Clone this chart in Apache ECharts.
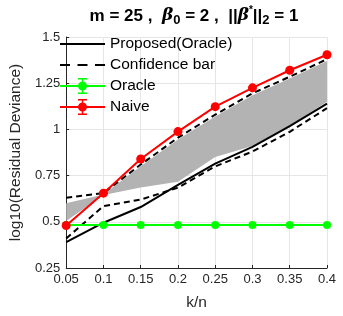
<!DOCTYPE html>
<html>
<head>
<meta charset="utf-8">
<script src="https://cdn.jsdelivr.net/npm/echarts@6/dist/echarts.min.js"></script>
<style>html,body{margin:0;padding:0;background:#fff}#c{width:343px;height:316px}</style>
</head>
<body>
<div id="c"></div>
<script>
const kn = [0.05, 0.1, 0.15, 0.2, 0.25, 0.3, 0.35, 0.4];
const proposed = [0.39, 0.495, 0.58, 0.70, 0.815, 0.905, 1.018, 1.14];
const confUpper = [0.63, 0.655, 0.81, 0.955, 1.08, 1.195, 1.285, 1.38];
const confLower = [0.41, 0.585, 0.62, 0.685, 0.80, 0.88, 0.987, 1.115];
const oracle = [0.483, 0.483, 0.483, 0.483, 0.483, 0.483, 0.483, 0.483];
const naive = [0.48, 0.655, 0.84, 0.988, 1.123, 1.225, 1.32, 1.404];
const bandLower = [0.505, 0.645, 0.685, 0.717, 0.85, 0.91, 1.02, 1.15];
const bandUpper = [0.60, 0.648, 0.80, 0.945, 1.07, 1.185, 1.275, 1.37];
const yTicks = [0.25, 0.5, 0.75, 1, 1.25, 1.5];

const pair = arr => arr.map((v, i) => [kn[i], v]);
const FONT = 'Liberation Sans, Arial, sans-serif';
const ebIcon = 'path://M0 7H45V9H0Z M21.75 0.75H23.25V15.25H21.75Z M18 0H27V1.5H18Z M18 14.5H27V16H18Z M18 8A4.5 4.5 0 1 1 27 8A4.5 4.5 0 1 1 18 8Z';
const solidIcon = 'path://M0 0H45V0.1H0Z M0 7H45V9H0Z M0 15.9H45V16H0Z';
const dashIcon = 'path://M0 0H45V0.1H0Z M0 7H10V9H0Z M17.5 7H27.5V9H17.5Z M35 7H45V9H35Z M0 15.9H45V16H0Z';

const chart = echarts.init(document.getElementById('c'), null, {renderer: 'canvas'});
chart.setOption({
  animation: false,
  backgroundColor: '#fff',
  title: {
    left: 194, top: 5, textAlign: 'center', padding: 0,
    text: '{t|m = 25 ,  }{g|β}{sb|0}{t| = 2 ,  ||}{g|β}{sp|*}{t|||}{sb|2}{t| = 1}',
    textStyle: {
      rich: {
        t: {fontSize: 17, fontWeight: 'bold', fontFamily: FONT, color: '#000', lineHeight: 22, verticalAlign: 'middle'},
        g: {fontSize: 17, fontStyle: 'italic', fontFamily: 'DejaVu Serif, serif', color: '#000', lineHeight: 22, verticalAlign: 'middle'},
        sb: {fontSize: 13, fontWeight: 'bold', fontFamily: FONT, color: '#000', lineHeight: 12, verticalAlign: 'bottom'},
        sp: {fontSize: 10, fontFamily: FONT, color: '#000', lineHeight: 10, verticalAlign: 'top'}
      }
    }
  },
  grid: {left: 59, right: 16, top: 37, bottom: 48},
  legend: {
    orient: 'vertical', left: 60, top: 36, padding: 0,
    itemWidth: 45, itemHeight: 16, itemGap: 5,
    textStyle: {fontSize: 15.5, fontFamily: FONT, color: '#000'},
    data: [
      {name: 'Proposed(Oracle)', icon: solidIcon},
      {name: 'Confidence bar', icon: dashIcon},
      {name: 'Oracle', icon: ebIcon},
      {name: 'Naive', icon: ebIcon}
    ]
  },
  xAxis: {
    type: 'value', min: 0.05, max: 0.4, interval: 0.05,
    name: 'k/n', nameLocation: 'middle', nameGap: 27,
    nameTextStyle: {fontSize: 15.5, fontFamily: FONT, color: '#262626'},
    axisLine: {lineStyle: {color: '#262626', width: 1}},
    axisTick: {inside: true, length: 3, lineStyle: {color: '#262626'}},
    axisLabel: {fontSize: 13, fontFamily: FONT, color: '#262626', margin: 5,
      formatter: v => String(Math.round(v * 100) / 100)},
    splitLine: {show: true, lineStyle: {color: '#e6e6e6', width: 1}}
  },
  yAxis: {
    type: 'value', min: yTicks[0], max: yTicks[yTicks.length - 1], interval: 0.25,
    name: 'log10(Residual Deviance)', nameLocation: 'middle', nameGap: 36,
    nameTextStyle: {fontSize: 15.5, fontFamily: FONT, color: '#262626'},
    axisLine: {show: true, lineStyle: {color: '#262626', width: 1}},
    axisTick: {show: true, inside: true, length: 3, lineStyle: {color: '#262626'}},
    axisLabel: {fontSize: 13, fontFamily: FONT, color: '#262626', margin: 6,
      formatter: v => String(Math.round(v * 100) / 100)},
    splitLine: {show: true, lineStyle: {color: '#e6e6e6', width: 1}}
  },
  series: [
    {type: 'custom', name: 'band', silent: true, z: 1,
      data: pair(bandUpper),
      renderItem: (params, api) => {
        if (params.dataIndex !== 0) return null;
        const pts = [];
        for (let i = 0; i < kn.length; i++) pts.push(api.coord([kn[i], bandUpper[i]]));
        for (let i = kn.length - 1; i >= 0; i--) pts.push(api.coord([kn[i], bandLower[i]]));
        return {type: 'polygon', shape: {points: pts}, style: {fill: '#b3b3b3', stroke: null}};
      }},
    {type: 'line', name: 'Proposed(Oracle)', symbol: 'none', color: '#000',
      lineStyle: {color: '#000', width: 2}, data: pair(proposed), z: 3},
    {type: 'line', name: 'Confidence bar', symbol: 'none', color: '#000',
      lineStyle: {color: '#000', width: 2, type: [6, 4]}, data: pair(confUpper), z: 3},
    {type: 'line', name: 'Confidence bar', symbol: 'none', color: '#000',
      lineStyle: {color: '#000', width: 2, type: [6, 4]}, data: pair(confLower), z: 3},
    {type: 'line', name: 'Oracle', symbol: 'circle', symbolSize: 8, color: '#00ff00',
      itemStyle: {color: '#00ff00'}, lineStyle: {color: '#00ff00', width: 2}, data: pair(oracle), z: 4},
    {type: 'line', name: 'Naive', symbol: 'circle', symbolSize: 9, color: '#ff0000',
      itemStyle: {color: '#ff0000'}, lineStyle: {color: '#ff0000', width: 2}, data: pair(naive), z: 5}
  ]
});
</script>
</body>
</html>
